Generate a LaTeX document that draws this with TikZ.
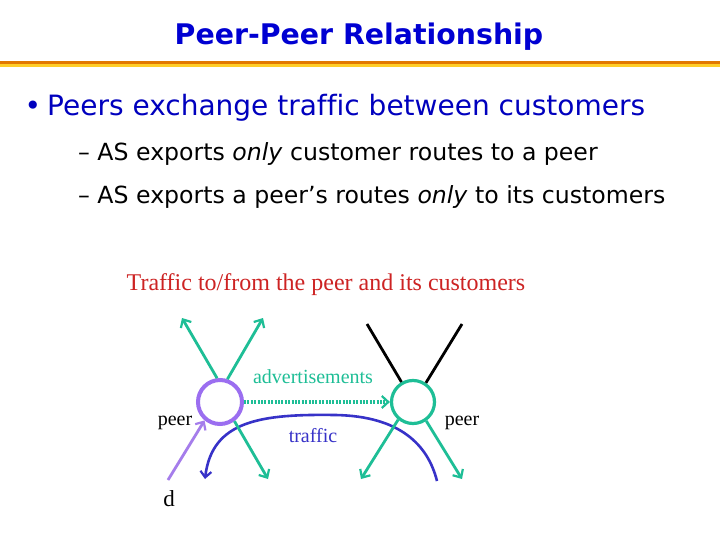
\documentclass[tikz,border=0pt]{standalone}
\usepackage{fontspec}
\setmainfont[Ligatures=NoCommon]{Liberation Serif}
\newfontfamily\tah[Ligatures=NoCommon]{DejaVu Sans}
\usetikzlibrary{arrows.meta}
\definecolor{titleblue}{RGB}{0,0,210}
\definecolor{textblue}{RGB}{0,0,190}
\definecolor{teal2}{RGB}{30,190,150}
\definecolor{purp}{RGB}{155,110,240}
\definecolor{purp2}{RGB}{165,125,235}
\definecolor{trblue}{RGB}{55,50,200}
\definecolor{redtxt}{RGB}{205,35,35}
\definecolor{orng}{RGB}{225,120,0}
\definecolor{yell}{RGB}{255,205,40}
\tikzset{
  tip/.style={-{Straight Barb[length=6.5pt,width=12pt,line width=2.2pt]}},
  tealarrow/.style={teal2,line width=2.8pt,tip},
  lbl/.style={inner sep=0pt,anchor=base,font=\fontsize{20}{20}\selectfont}
}
\begin{document}
\begin{tikzpicture}[x=1pt,y=-1pt]
\path[use as bounding box] (0,0) rectangle (720,540);
\fill[white] (0,0) rectangle (720,540);
% title
\node[inner sep=0pt,anchor=base,text=titleblue,font=\tah\bfseries\fontsize{28.4}{28.4}\selectfont] (title) at (359,45) {Peer-Peer Relationship};
\fill[orng] (0,61.5) rectangle (720,64.5);
\fill[yell] (0,64.5) rectangle (720,67);
% bullets
\node[inner sep=0pt,anchor=base,text=textblue,font=\tah\fontsize{28}{28}\selectfont] (dot) at (33,116) {\textbullet};
\node[inner sep=0pt,anchor=base west,text=textblue,font=\tah\fontsize{28}{28}\selectfont] (b1) at (47,116) {Peers exchange traffic between customers};
\node[inner sep=0pt,anchor=base west,font=\tah\fontsize{23.6}{23.6}\selectfont] (s1) at (78,161) {\char"2013\ AS exports \textit{only} customer routes to a peer};
\node[inner sep=0pt,anchor=base west,font=\tah\fontsize{23.6}{23.6}\selectfont] (s2) at (78,204) {\char"2013\ AS exports a peer’s routes \textit{only} to its customers};
% red caption
\node[inner sep=0pt,anchor=base,text=redtxt,font=\fontsize{24}{24}\selectfont] (cap) at (326,290) {Traffic to/from the peer and its customers};
% circles
\node[circle,draw=purp,line width=4pt,minimum size=44pt,inner sep=0pt] (L) at (220,402) {};
\node[circle,draw=teal2,line width=3.2pt,minimum size=43pt,inner sep=0pt] (R) at (413,402) {};
% free ends
\coordinate (Lul) at (182,318);
\coordinate (Lur) at (263,318);
\coordinate (Ldr) at (268,479);
\coordinate (Rdl) at (361,479);
\coordinate (Rdr) at (462,479);
\coordinate (Bl) at (367,324);
\coordinate (Br) at (462,324);
\coordinate (D) at (168,480);
\coordinate (Ts) at (437,481);
\coordinate (Te) at (205,479);
% traffic curve
\draw[trblue,line width=2.6pt,-{Straight Barb[length=6pt,width=11pt,line width=2.2pt]}]
  (Ts) .. controls (428,445) and (400,416) .. (335,415) .. controls (262,414) and (212,420) .. (Te);
% teal arrows
\draw[tealarrow] (L.97) -- (Lul);
\draw[tealarrow] (L.72) -- (Lur);
\draw[tealarrow] (L.-53) -- (Ldr);
\draw[tealarrow] (R.-130) -- (Rdl);
\draw[tealarrow] (R.-55) -- (Rdr);
% black lines
\draw[black,line width=2.8pt] (R.120) -- (Bl);
\draw[black,line width=2.8pt] (R.56) -- (Br);
% purple arrow
\draw[purp2,line width=2.8pt,tip] (D) -- (L.-130);
% advertisement dotted
\draw[teal2,line width=3.8pt,dash pattern=on 2pt off 1.4pt,-{Straight Barb[length=6.5pt,width=12pt,line width=2.2pt]}] (L.east) -- (R.west);
% labels
\node[lbl,text=teal2] (adv) at (313,383) {advertisements};
\node[lbl,text=trblue] (trf) at (313,442) {traffic};
\node[lbl] (pl) at (175,425) {peer};
\node[lbl] (pr) at (462,425) {peer};
\node[lbl,font=\fontsize{23}{23}\selectfont] (d) at (169,506) {d};
\end{tikzpicture}
\end{document}
